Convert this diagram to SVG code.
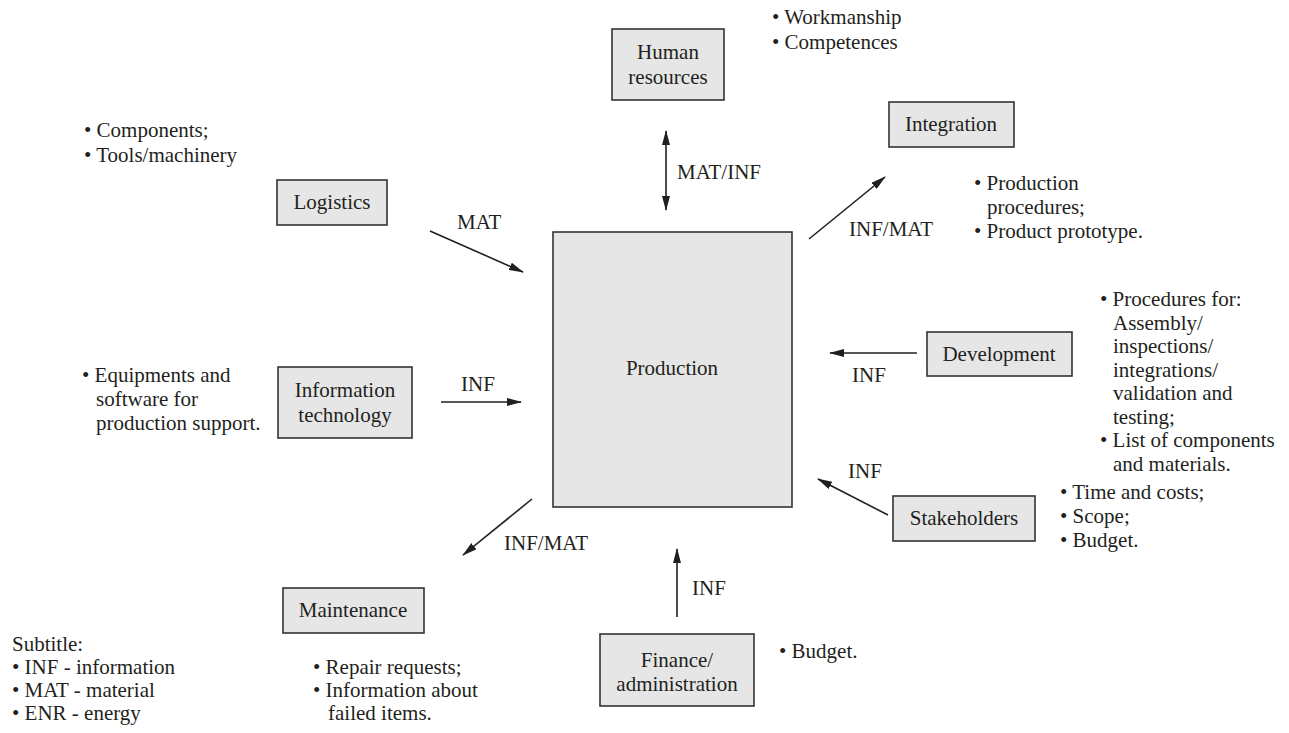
<svg xmlns="http://www.w3.org/2000/svg" width="1289" height="733" viewBox="0 0 1289 733">
  <style>
    text { font-family: 'Liberation Serif', 'Times New Roman', serif; font-size: 21px; fill: #231f20; }
    .box { fill: #e6e6e7; stroke: #333; stroke-width: 1.6; }
    .mid { text-anchor: middle; }
    .link { stroke: #231f20; stroke-width: 1.6; fill: none; }
  </style>
  <defs>
    <marker id="head" viewBox="0 0 15 8" refX="14" refY="4" markerWidth="15" markerHeight="8" markerUnits="userSpaceOnUse" orient="auto-start-reverse">
      <path d="M0,0 L15,4 L0,8 z" fill="#231f20"/>
    </marker>
  </defs>

  <rect width="1289" height="733" fill="#ffffff"/>

  <!-- central process -->
  <g id="production">
    <rect class="box" x="553" y="232" width="239" height="275"/>
    <text class="mid" x="672" y="375">Production</text>
  </g>

  <g id="human-resources">
    <rect class="box" x="612" y="29" width="112" height="71"/>
    <text class="mid" x="668" y="59">Human</text>
    <text class="mid" x="668" y="84">resources</text>
  </g>

  <g id="integration">
    <rect class="box" x="889" y="102" width="125" height="45"/>
    <text class="mid" x="951" y="131">Integration</text>
  </g>

  <g id="logistics">
    <rect class="box" x="277" y="180" width="110" height="45"/>
    <text class="mid" x="332" y="209">Logistics</text>
  </g>

  <g id="information-technology">
    <rect class="box" x="278" y="367" width="134" height="71"/>
    <text class="mid" x="345" y="397">Information</text>
    <text class="mid" x="345" y="422">technology</text>
  </g>

  <g id="development">
    <rect class="box" x="927" y="332" width="145" height="44"/>
    <text class="mid" x="999" y="361">Development</text>
  </g>

  <g id="stakeholders">
    <rect class="box" x="893" y="496" width="142" height="45"/>
    <text class="mid" x="964" y="525">Stakeholders</text>
  </g>

  <g id="maintenance">
    <rect class="box" x="283" y="588" width="141" height="45"/>
    <text class="mid" x="353" y="617">Maintenance</text>
  </g>

  <g id="finance-administration">
    <rect class="box" x="600" y="634" width="154" height="72"/>
    <text class="mid" x="677" y="667">Finance/</text>
    <text class="mid" x="677" y="691">administration</text>
  </g>

  <!-- flows between the units and production -->
  <g id="connectors">
    <line class="link" x1="666" y1="131" x2="666" y2="210" marker-start="url(#head)" marker-end="url(#head)"/>
    <text x="677" y="179">MAT/INF</text>

    <line class="link" x1="809" y1="239" x2="885" y2="177" marker-end="url(#head)"/>
    <text x="849" y="236">INF/MAT</text>

    <line class="link" x1="430" y1="231" x2="523" y2="272" marker-end="url(#head)"/>
    <text x="457" y="229">MAT</text>

    <line class="link" x1="441" y1="402" x2="521" y2="402" marker-end="url(#head)"/>
    <text x="461" y="391">INF</text>

    <line class="link" x1="917" y1="353" x2="830" y2="353" marker-end="url(#head)"/>
    <text x="852" y="382">INF</text>

    <line class="link" x1="888" y1="515" x2="818" y2="479" marker-end="url(#head)"/>
    <text x="848" y="478">INF</text>

    <line class="link" x1="532" y1="499" x2="463" y2="555" marker-end="url(#head)"/>
    <text x="504" y="550">INF/MAT</text>

    <line class="link" x1="677" y1="617" x2="677" y2="549" marker-end="url(#head)"/>
    <text x="692" y="595">INF</text>
  </g>

  <!-- notes -->
  <g id="notes">
    <text x="772" y="24">• Workmanship</text>
    <text x="772" y="49">• Competences</text>

    <text x="84" y="137">• Components;</text>
    <text x="84" y="162">• Tools/machinery</text>

    <text x="974" y="190">• Production</text>
    <text x="987" y="214">procedures;</text>
    <text x="974" y="238">• Product prototype.</text>

    <text x="1100" y="306">• Procedures for:</text>
    <text x="1113" y="330">Assembly/</text>
    <text x="1113" y="353">inspections/</text>
    <text x="1113" y="377">integrations/</text>
    <text x="1113" y="400">validation and</text>
    <text x="1113" y="424">testing;</text>
    <text x="1100" y="447">• List of components</text>
    <text x="1113" y="471">and materials.</text>

    <text x="82" y="382">• Equipments and</text>
    <text x="96" y="406">software for</text>
    <text x="96" y="430">production support.</text>

    <text x="1060" y="499">• Time and costs;</text>
    <text x="1060" y="523">• Scope;</text>
    <text x="1060" y="547">• Budget.</text>

    <text x="779" y="658">• Budget.</text>

    <text x="313" y="674">• Repair requests;</text>
    <text x="313" y="697">• Information about</text>
    <text x="328" y="720">failed items.</text>
  </g>

  <g id="legend">
    <text x="12" y="651">Subtitle:</text>
    <text x="12" y="674">• INF - information</text>
    <text x="12" y="697">• MAT - material</text>
    <text x="12" y="720">• ENR - energy</text>
  </g>
</svg>
